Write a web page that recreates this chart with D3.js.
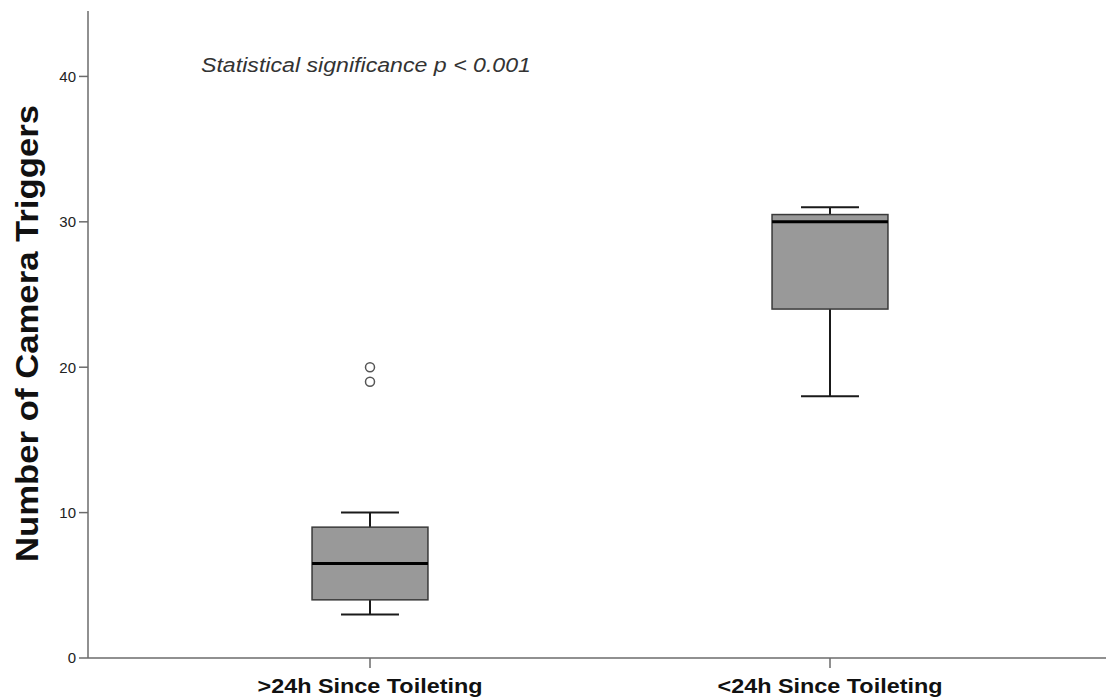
<!DOCTYPE html>
<html>
<head>
<meta charset="utf-8">
<script src="https://cdn.jsdelivr.net/npm/d3@7"></script>
<style>
  html, body { margin: 0; padding: 0; background: #fff; }
  svg { display: block; }
</style>
</head>
<body>
<svg id="chart" width="1106" height="700"></svg>
<script>
// Groups and five-number summaries (camera triggers)
const categories = [">24h Since Toileting", "<24h Since Toileting"];
const whiskerLow  = [3, 18];
const q1          = [4, 24];
const medians     = [6.5, 30];
const q3          = [9, 30.5];
const whiskerHigh = [10, 31];
const outliers    = [[19, 20], []];
const yTicks = [0, 10, 20, 30, 40];

const svg = d3.select("#chart");
const font = "Arial, 'Liberation Sans', sans-serif";

const y = d3.scaleLinear().domain([0, 44.5]).range([658, 11]);
const x = d3.scaleBand().domain(categories).range([140, 1060]).padding(0);
const boxW = x.bandwidth() * 0.252;
const capW = boxW / 2;

// Axes
const axisColor = "#6b6b6b";
svg.append("line").attr("x1", 88).attr("x2", 88).attr("y1", y(44.5)).attr("y2", y(0))
  .attr("stroke", axisColor).attr("stroke-width", 1.5);
svg.append("line").attr("x1", 88).attr("x2", 1106).attr("y1", y(0)).attr("y2", y(0))
  .attr("stroke", axisColor).attr("stroke-width", 1.5);

const yAx = svg.append("g");
yAx.selectAll("line").data(yTicks).join("line")
  .attr("x1", 79).attr("x2", 88).attr("y1", d => y(d)).attr("y2", d => y(d))
  .attr("stroke", axisColor).attr("stroke-width", 1.5);
yAx.selectAll("text").data(yTicks).join("text")
  .attr("x", 76).attr("y", d => y(d)).attr("dy", "0.36em")
  .attr("text-anchor", "end").attr("font-family", font).attr("font-size", 15)
  .attr("fill", "#222").text(d => d);

const xAx = svg.append("g");
xAx.selectAll("line").data(categories).join("line")
  .attr("x1", d => x(d) + x.bandwidth() / 2).attr("x2", d => x(d) + x.bandwidth() / 2)
  .attr("y1", y(0)).attr("y2", y(0) + 10)
  .attr("stroke", axisColor).attr("stroke-width", 1.5);
xAx.selectAll("text").data(categories).join("text")
  .attr("x", d => x(d) + x.bandwidth() / 2).attr("y", 693)
  .attr("text-anchor", "middle").attr("font-family", font).attr("font-size", 21)
  .attr("font-weight", "bold").attr("fill", "#111")
  .attr("textLength", 225).attr("lengthAdjust", "spacingAndGlyphs")
  .text(d => d);

// Y axis title
svg.append("text")
  .attr("transform", "translate(38,333.5) rotate(-90)")
  .attr("text-anchor", "middle").attr("font-family", font).attr("font-size", 31)
  .attr("font-weight", "bold").attr("fill", "#111")
  .attr("textLength", 457).attr("lengthAdjust", "spacingAndGlyphs")
  .text("Number of Camera Triggers");

// Annotation
svg.append("text").attr("x", 201).attr("y", 72)
  .attr("font-family", font).attr("font-size", 19.5).attr("font-style", "italic")
  .attr("fill", "#333")
  .attr("textLength", 330).attr("lengthAdjust", "spacingAndGlyphs")
  .text("Statistical significance p < 0.001");

// Boxes
const rows = categories.map((c, i) => ({
  c, lo: whiskerLow[i], q1: q1[i], med: medians[i], q3: q3[i], hi: whiskerHigh[i], out: outliers[i]
}));

const g = svg.append("g");
rows.forEach(r => {
  const cx = x(r.c) + x.bandwidth() / 2;
  const wStroke = "#1a1a1a";
  // whiskers
  g.append("line").attr("x1", cx).attr("x2", cx).attr("y1", y(r.q3)).attr("y2", y(r.hi))
    .attr("stroke", wStroke).attr("stroke-width", 2);
  g.append("line").attr("x1", cx).attr("x2", cx).attr("y1", y(r.q1)).attr("y2", y(r.lo))
    .attr("stroke", wStroke).attr("stroke-width", 2);
  [r.lo, r.hi].forEach(v => {
    g.append("line").attr("x1", cx - capW / 2).attr("x2", cx + capW / 2)
      .attr("y1", y(v)).attr("y2", y(v))
      .attr("stroke", wStroke).attr("stroke-width", 2);
  });
  // box
  g.append("rect").attr("x", cx - boxW / 2).attr("y", y(r.q3))
    .attr("width", boxW).attr("height", y(r.q1) - y(r.q3))
    .attr("fill", "#999999").attr("stroke", "#3a3a3a").attr("stroke-width", 1.5);
  // median
  g.append("line").attr("x1", cx - boxW / 2).attr("x2", cx + boxW / 2)
    .attr("y1", y(r.med)).attr("y2", y(r.med))
    .attr("stroke", "#000").attr("stroke-width", 3);
  // outliers
  g.selectAll(null).data(r.out).join("circle")
    .attr("cx", cx).attr("cy", d => y(d)).attr("r", 4.5)
    .attr("fill", "none").attr("stroke", "#555").attr("stroke-width", 1.5);
});
</script>
</body>
</html>
